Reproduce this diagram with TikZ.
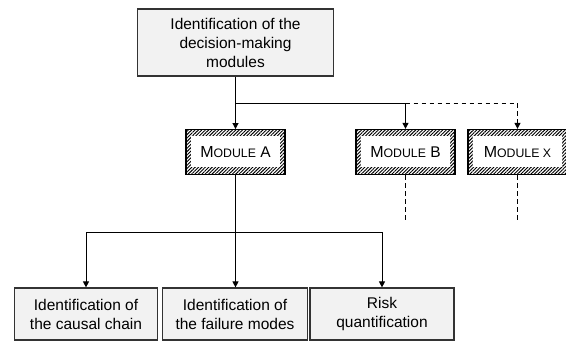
\documentclass[tikz,border=0pt]{standalone}
\usepackage{fontspec}
\setmainfont{Liberation Sans}
\usetikzlibrary{arrows.meta,patterns.meta}
\begin{document}
\begin{tikzpicture}[x=1pt,y=-1pt,
  every node/.style={font=\fontsize{15.5}{19}\selectfont},
  graybox/.style={draw=black!80,line width=1.2pt,fill=black!5,inner sep=0pt,align=center,anchor=center},
  modbox/.style={draw=black,line width=1.3pt,inner sep=0pt,anchor=center,
    minimum width=99pt,minimum height=45pt,
    pattern={Lines[angle=45,distance=2.4pt,line width=0.95pt]},
    path picture={\fill[white] ([xshift=5pt,yshift=7pt]path picture bounding box.south west) rectangle ([xshift=-5pt,yshift=-7pt]path picture bounding box.north east);}},
  conn/.style={line width=1pt,black},
  arr/.style={conn,-{Triangle[width=6pt,length=6pt]}},
  dconn/.style={conn,dash pattern=on 4.5pt off 3.5pt},
  darr/.style={dconn,-{Triangle[width=6pt,length=6pt]}}]
\useasboundingbox (0,0) rectangle (566,342);
\node[graybox,minimum width=196pt,minimum height=67pt] (top) at (235.5,42.5) {Identification of the\\decision-making\\modules};
\node[modbox] (modA) at (235.5,152) {{\fontsize{16}{19}\selectfont M}{\fontsize{12.3}{19}\selectfont ODULE}\ A};
\node[modbox] (modB) at (405.5,152) {{\fontsize{16}{19}\selectfont M}{\fontsize{12.3}{19}\selectfont ODULE}\ B};
\node[modbox] (modX) at (517.5,152) {{\fontsize{16}{19}\selectfont M}{\fontsize{12.3}{19}\selectfont ODULE X}};
\node[graybox,minimum width=143pt,minimum height=52pt] (b1) at (86,314) {Identification of\\the causal chain};
\node[graybox,minimum width=145pt,minimum height=52pt] (b2) at (235,314) {Identification of\\the failure modes};
\node[graybox,minimum width=144pt,minimum height=52pt] (b3) at (382,314) {Risk\\quantification};
\coordinate (j1) at (235.5,103.5);
\coordinate (jB) at (405.5,103.5);
\coordinate (j2) at (235.5,232.5);
\coordinate (eB) at (405.5,222);
\coordinate (eX) at (517.5,222);
\draw[arr] (top.south) -- (modA.north);
\draw[arr] (j1) -| (modB.north);
\draw[darr] (jB) -| (modX.north);
\draw[dconn] (modB.south) -- (eB);
\draw[dconn] (modX.south) -- (eX);
\draw[arr] (modA.south) -- (modA.south |- b2.north);
\draw[arr] (j2) -| (b1.north);
\draw[arr] (j2) -| (b3.north);
\end{tikzpicture}
\end{document}
